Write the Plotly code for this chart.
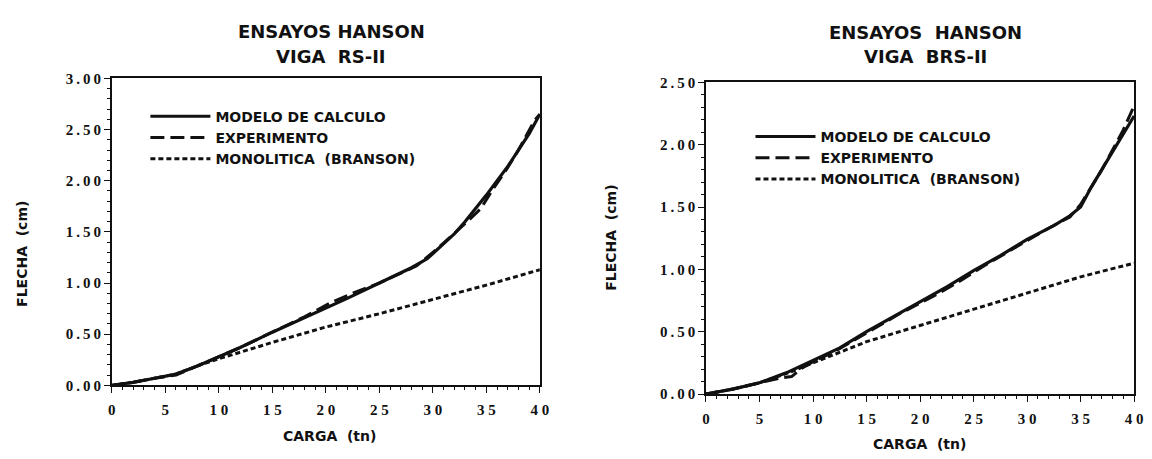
import plotly.graph_objects as go

# ---- Viga RS-II : carga (tn) vs flecha (cm) ----
rs_modelo_x = [0, 2, 4, 6, 8, 10, 12, 15, 18, 20, 22, 25, 28, 29.5, 30, 31, 32, 33, 35, 37, 39, 40]
rs_modelo_y = [0, 0.03, 0.07, 0.11, 0.19, 0.28, 0.37, 0.52, 0.66, 0.76, 0.85, 1.00, 1.15, 1.24, 1.29, 1.38, 1.48, 1.60, 1.86, 2.14, 2.46, 2.65]

rs_exp_x = [0, 2, 4, 6, 8, 10, 12, 15, 18, 20.5, 22.5, 25, 27, 28.5, 30, 31, 33, 34.5, 35.5, 37, 38, 39.5, 40]
rs_exp_y = [0, 0.03, 0.07, 0.10, 0.19, 0.28, 0.37, 0.52, 0.67, 0.81, 0.90, 1.00, 1.10, 1.17, 1.30, 1.39, 1.58, 1.73, 1.90, 2.13, 2.30, 2.59, 2.65]

rs_branson_x = [0, 2, 4, 6, 8, 10, 15, 20, 25, 30, 35, 40]
rs_branson_y = [0, 0.03, 0.07, 0.11, 0.19, 0.26, 0.42, 0.57, 0.70, 0.84, 0.98, 1.13]

# ---- Viga BRS-II ----
brs_modelo_x = [0, 2.5, 5, 7.5, 10, 12.5, 15, 17.5, 20, 22.5, 25, 27.5, 30, 32.5, 34, 35, 36, 38, 40]
brs_modelo_y = [0, 0.04, 0.09, 0.17, 0.27, 0.37, 0.50, 0.62, 0.74, 0.86, 0.99, 1.11, 1.24, 1.35, 1.43, 1.50, 1.66, 1.95, 2.23]

brs_exp_x = [0, 2.5, 5, 7, 8, 9, 10, 12, 14, 16, 18, 20, 22, 24, 26, 28, 30, 32, 34, 35, 37, 39, 40]
brs_exp_y = [0, 0.04, 0.09, 0.13, 0.14, 0.21, 0.26, 0.34, 0.44, 0.54, 0.64, 0.73, 0.82, 0.92, 1.03, 1.13, 1.23, 1.33, 1.42, 1.52, 1.80, 2.12, 2.31]

brs_branson_x = [0, 2.5, 5, 8, 10, 15, 20, 25, 30, 35, 40]
brs_branson_y = [0, 0.04, 0.09, 0.18, 0.25, 0.42, 0.55, 0.68, 0.81, 0.94, 1.05]

series_names = ["MODELO DE CALCULO", "EXPERIMENTO", "MONOLITICA  (BRANSON)"]

x_ticks = [0, 5, 10, 15, 20, 25, 30, 35, 40]
x_ticktext = ["0", "5", "1 0", "1 5", "2 0", "2 5", "3 0", "3 5", "4 0"]
rs_y_ticks = [0, 0.5, 1.0, 1.5, 2.0, 2.5, 3.0]
brs_y_ticks = [0, 0.5, 1.0, 1.5, 2.0, 2.5]

TS = "\u2009"


def ytext(v):
    return TS.join(f"{v:.2f}")


SANS = "DejaVu Sans"
SERIF = "Liberation Serif"
INK = "#111111"

styles = [
    dict(color=INK, width=3.2, dash="solid"),
    dict(color=INK, width=3.0, dash="14px,6px"),
    dict(color=INK, width=3.0, dash="5px,3px"),
]

fig = go.Figure()

panels = [
    ("x", "y", "legend", [(rs_modelo_x, rs_modelo_y), (rs_exp_x, rs_exp_y), (rs_branson_x, rs_branson_y)]),
    ("x2", "y2", "legend2", [(brs_modelo_x, brs_modelo_y), (brs_exp_x, brs_exp_y), (brs_branson_x, brs_branson_y)]),
]
for xa, ya, lg, data in panels:
    for (xs, ys), name, st in zip(data, series_names, styles):
        fig.add_trace(go.Scatter(x=xs, y=ys, mode="lines", name=name, line=st,
                                 xaxis=xa, yaxis=ya, legend=lg))

W, H = 1152, 459


def px_x(p):
    return p / W


def px_y(p):
    return 1 - p / H


axis_common = dict(
    showline=True, linecolor=INK, linewidth=1.6, mirror=True,
    ticks="outside", ticklen=6, tickwidth=1.4, tickcolor=INK,
    showgrid=False, zeroline=False,
    tickfont=dict(family=SERIF, size=15, color=INK, weight="bold"),
)

fig.update_layout(
    width=W, height=H,
    margin=dict(l=0, r=0, t=0, b=0),
    paper_bgcolor="white", plot_bgcolor="white",
    xaxis=dict(domain=[px_x(109), px_x(542)], range=[0, 40], anchor="y",
               tickvals=x_ticks, ticktext=x_ticktext, ticklabelstandoff=4,
               minor=dict(dtick=1, ticks="outside", ticklen=3, tickcolor=INK),
               **axis_common),
    yaxis=dict(domain=[px_y(391), px_y(73)], range=[0, 3], anchor="x",
               tickvals=rs_y_ticks, ticktext=[ytext(v) for v in rs_y_ticks],
               minor=dict(dtick=0.1, ticks="outside", ticklen=3, tickcolor=INK),
               **axis_common),
    xaxis2=dict(domain=[px_x(710), px_x(1143)], range=[0, 40], anchor="y2",
                tickvals=x_ticks, ticktext=x_ticktext, ticklabelstandoff=4,
                minor=dict(dtick=1, ticks="outside", ticklen=3, tickcolor=INK),
                **axis_common),
    yaxis2=dict(domain=[px_y(400), px_y(77)], range=[0, 2.5], anchor="x2",
                tickvals=brs_y_ticks, ticktext=[ytext(v) for v in brs_y_ticks],
                minor=dict(dtick=0.1, ticks="outside", ticklen=3, tickcolor=INK),
                **axis_common),
    legend=dict(x=px_x(143), y=px_y(96), xanchor="left", yanchor="top",
                bgcolor="rgba(0,0,0,0)", itemwidth=60, tracegroupgap=0,
                font=dict(family=SANS, size=14, color=INK, weight="bold")),
    legend2=dict(x=px_x(755), y=px_y(117), xanchor="left", yanchor="top",
                 bgcolor="rgba(0,0,0,0)", itemwidth=60, tracegroupgap=0,
                 font=dict(family=SANS, size=14, color=INK, weight="bold")),
    showlegend=True,
)

title_font = dict(family=SANS, size=18, color=INK, weight="bold")
label_font = dict(family=SANS, size=14, color=INK, weight="bold")

annotations = [
    dict(text="ENSAYOS HANSON", x=px_x(331), y=px_y(24), font=title_font),
    dict(text="VIGA  RS-II", x=px_x(331), y=px_y(50), font=title_font),
    dict(text="ENSAYOS  HANSON", x=px_x(932), y=px_y(25), font=title_font),
    dict(text="VIGA  BRS-II", x=px_x(932), y=px_y(50), font=title_font),
    dict(text="CARGA  (tn)", x=px_x(329), y=px_y(443), font=label_font),
    dict(text="CARGA  (tn)", x=px_x(926), y=px_y(452), font=label_font),
    dict(text="FLECHA  (cm)", x=px_x(18), y=px_y(255), font=label_font, textangle=-90),
    dict(text="FLECHA  (cm)", x=px_x(614), y=px_y(238), font=label_font, textangle=-90),
]
for a in annotations:
    fig.add_annotation(xref="paper", yref="paper", showarrow=False,
                       xanchor="center", yanchor="middle", **a)

fig.write_html("out.html")
